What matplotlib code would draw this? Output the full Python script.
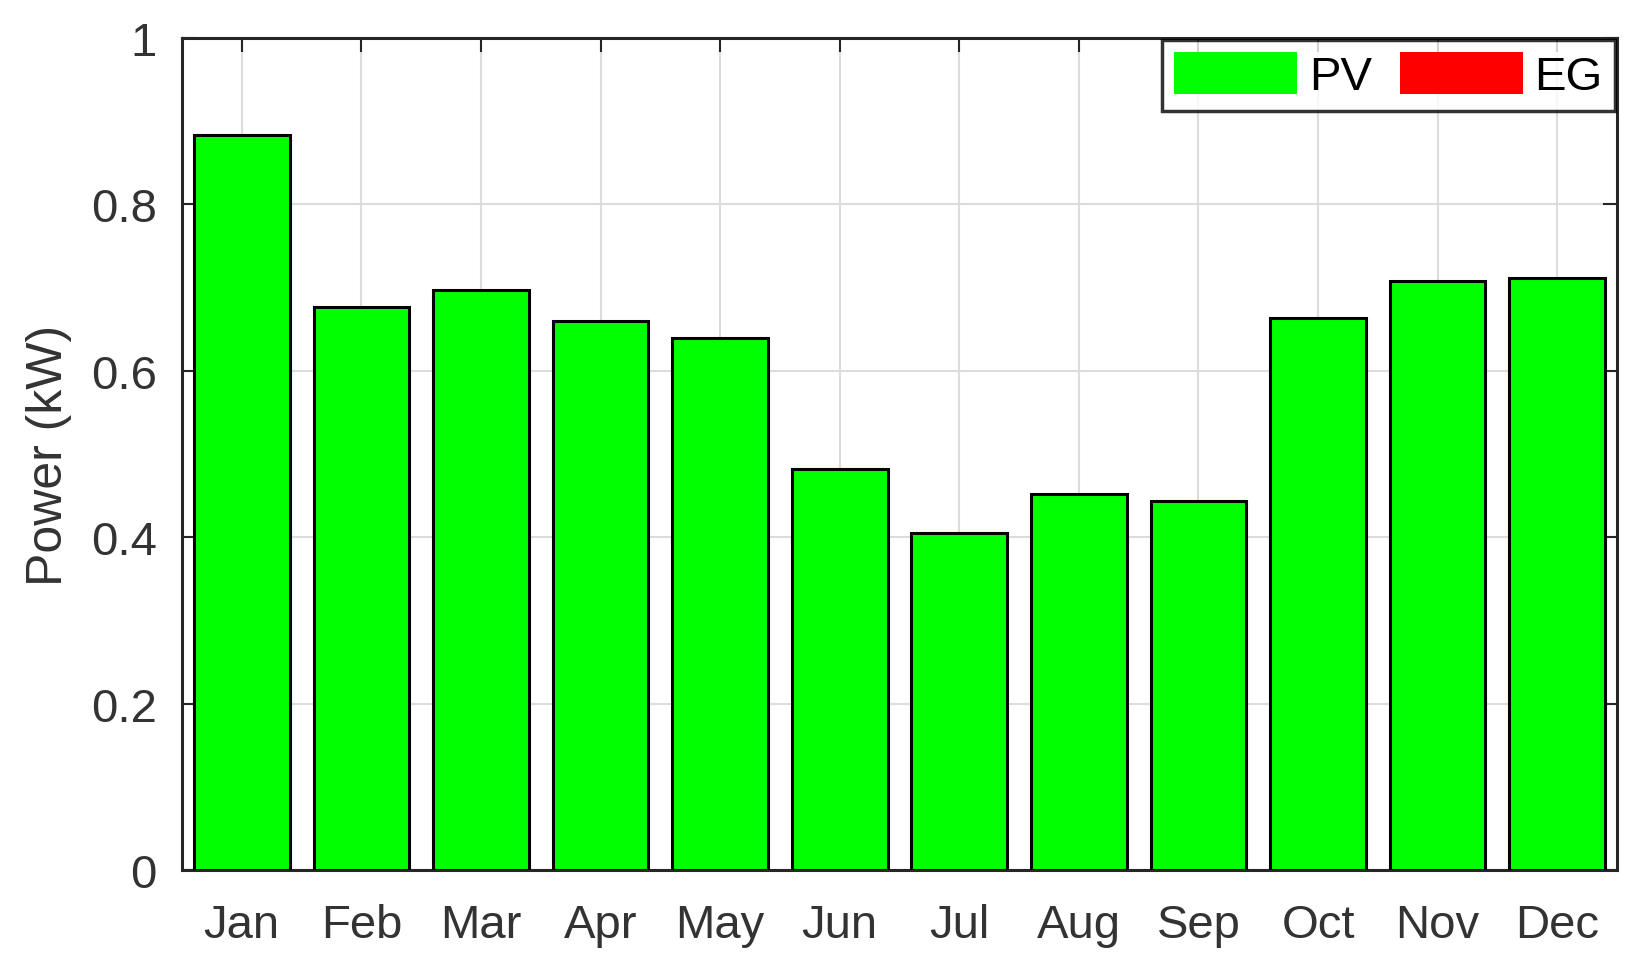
import numpy as np
import matplotlib
matplotlib.use("Agg")
import matplotlib.pyplot as plt

months = ['Jan', 'Feb', 'Mar', 'Apr', 'May', 'Jun',
          'Jul', 'Aug', 'Sep', 'Oct', 'Nov', 'Dec']
pv = [0.884, 0.677, 0.697, 0.660, 0.640, 0.482,
      0.405, 0.452, 0.444, 0.664, 0.708, 0.711]
eg = [0, 0, 0, 0, 0, 0, 0, 0, 0, 0, 0, 0]

plt.rcParams['font.family'] = ['Liberation Sans', 'DejaVu Sans']

fig = plt.figure(figsize=(16.38, 9.70), dpi=100)
ax = fig.add_axes([182/1638, 1-871/970, (1617-182)/1638, (871-39)/970])

x = np.arange(1, len(months)+1)
ax.bar(x, pv, width=0.8, color='#00ff00', edgecolor='black', linewidth=2.2, label='PV', zorder=3)
ax.bar(x, eg, width=0.8, bottom=pv, color='#ff0000', edgecolor='black', linewidth=0, label='EG', zorder=3)

ax.set_xlim(0.5, 12.5)
ax.set_ylim(0, 1)
ax.set_xticks(x)
ax.set_xticklabels(months)
ax.set_yticks([0, 0.2, 0.4, 0.6, 0.8, 1])
ax.set_yticklabels(['0', '0.2', '0.4', '0.6', '0.8', '1'])
ax.grid(True, color='#dcdcdc', linewidth=1.5, zorder=0)
ax.tick_params(direction='in', length=10, width=1.5, colors='#262626',
               labelsize=34, top=True, right=True)
ax.tick_params(axis='x', pad=24)
ax.tick_params(axis='y', pad=18)
for lab in ax.get_xticklabels() + ax.get_yticklabels():
    lab.set_color('#333333')
for s in ax.spines.values():
    s.set_linewidth(2.2)
    s.set_color('#262626')
ax.set_ylabel('Power (kW)', fontsize=36, color='#333333', labelpad=14)

leg = ax.legend(loc='upper right', ncol=2, fontsize=34, frameon=True, fancybox=False,
                handlelength=2.6, handleheight=1.0, columnspacing=0.6, handletextpad=0.25,
                borderaxespad=0.05, borderpad=0.25)
leg.get_frame().set_edgecolor('black')
leg.get_frame().set_linewidth(2.5)
for h in leg.legend_handles:
    h.set_linewidth(0)

fig.savefig('out.png', dpi=100)
